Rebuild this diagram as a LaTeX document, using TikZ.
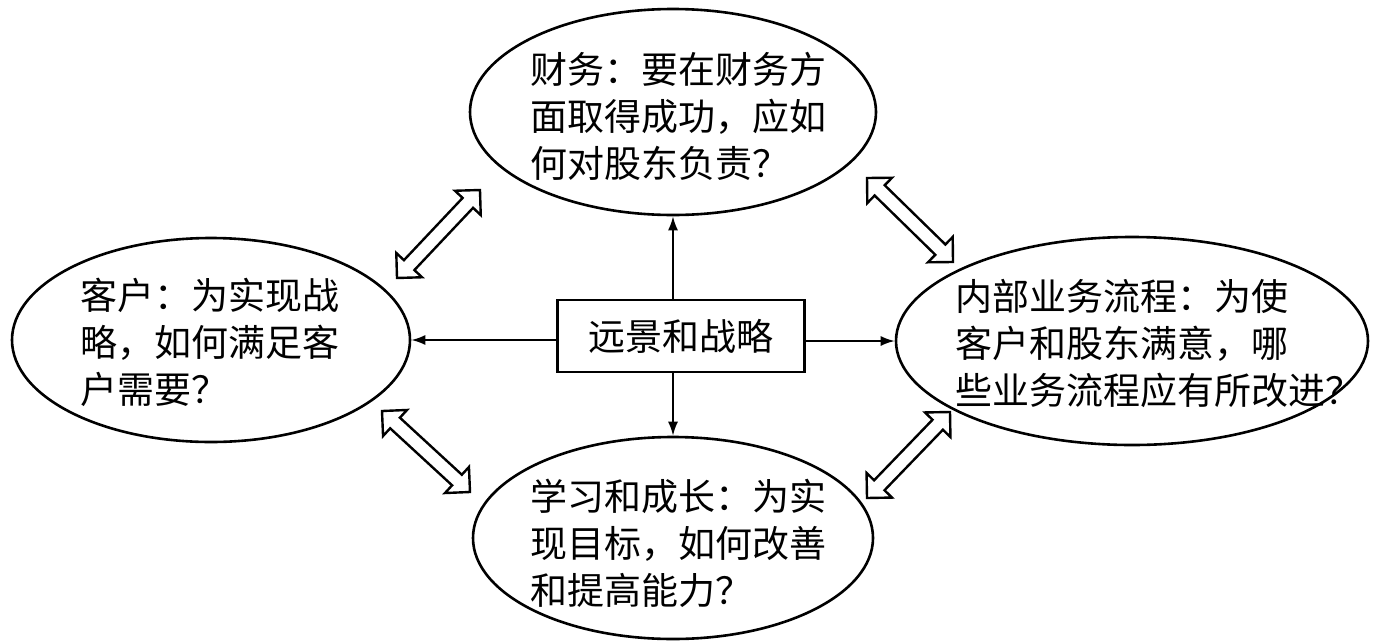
\documentclass[tikz,border=0pt]{standalone}
\usepackage{fontspec}
\newfontfamily\cjk{Noto Sans CJK SC}
\usetikzlibrary{shapes.geometric,shapes.arrows,arrows.meta,calc}
\newcommand\DblArrow[3]{%
  \path let \p1=($(#3)-(#2)$), \n1={atan2(\y1,\x1)}, \n2={veclen(\x1,\y1)} in
    node[dblarrow, rotate=\n1, minimum height=\n2] (#1) at ($(#2)!0.5!(#3)$) {};
}
\begin{document}
\begin{tikzpicture}[x=0.5pt,y=-0.5pt,
  ell/.style={draw, line width=1.3pt, ellipse, inner sep=0pt},
  txt/.style={inner sep=0pt, anchor=west, align=left, font={\cjk\fontsize{18.5pt}{23.5pt}\selectfont}},
  box/.style={draw, line width=1.2pt, inner sep=0pt, minimum width=123.5pt, minimum height=36pt, font={\cjk\fontsize{18.5pt}{23.5pt}\selectfont}},
  arr/.style={line width=0.9pt, -{Latex[length=7pt,width=5pt]}},
  dblarrow/.style={draw, line width=1.2pt, fill=white, double arrow, double arrow tip angle=90, double arrow head extend=5.25pt, inner xsep=0pt, inner ysep=3pt, minimum width=0pt}]
\useasboundingbox[fill=white] (0,0) rectangle (1381,643);

\node[ell, minimum width=203pt, minimum height=103pt] (T) at (673,112) {};
\node[ell, minimum width=199pt, minimum height=102pt] (L) at (211,340) {};
\node[ell, minimum width=236pt, minimum height=104pt] (R) at (1132,341) {};
\node[ell, minimum width=200pt, minimum height=101pt] (B) at (673,538) {};

\node[txt] (tT) at (530,116) {财务：要在财务方\\面取得成功，应如\\何对股东负责？};
\node[txt] (tL) at (80,342) {客户：为实现战\\略，如何满足客\\户需要？};
\node[txt] (tR) at (955,343) {内部业务流程：为使\\客户和股东满意，哪\\些业务流程应有所改进？};
\node[txt] (tB) at (530,543) {学习和成长：为实\\现目标，如何改善\\和提高能力？};

\node[box] (C) at (681,336) {远景和战略};

\draw[arr] (C.north -| T.south) -- (T.south);
\draw[arr] (C.south -| B.north) -- (B.north);
\draw[arr] (C.west |- L.east) -- (L.east);
\draw[arr] (C.east |- R.west) -- (R.west);

\coordinate (a1) at (397,278); \coordinate (a2) at (480,190);
\coordinate (b1) at (867,178); \coordinate (b2) at (953,262);
\coordinate (c1) at (382,411); \coordinate (c2) at (470,492);
\coordinate (d1) at (867,498); \coordinate (d2) at (950,412);
\DblArrow{da}{a1}{a2}
\DblArrow{db}{b1}{b2}
\DblArrow{dc}{c1}{c2}
\DblArrow{dd}{d1}{d2}
\end{tikzpicture}
\end{document}
